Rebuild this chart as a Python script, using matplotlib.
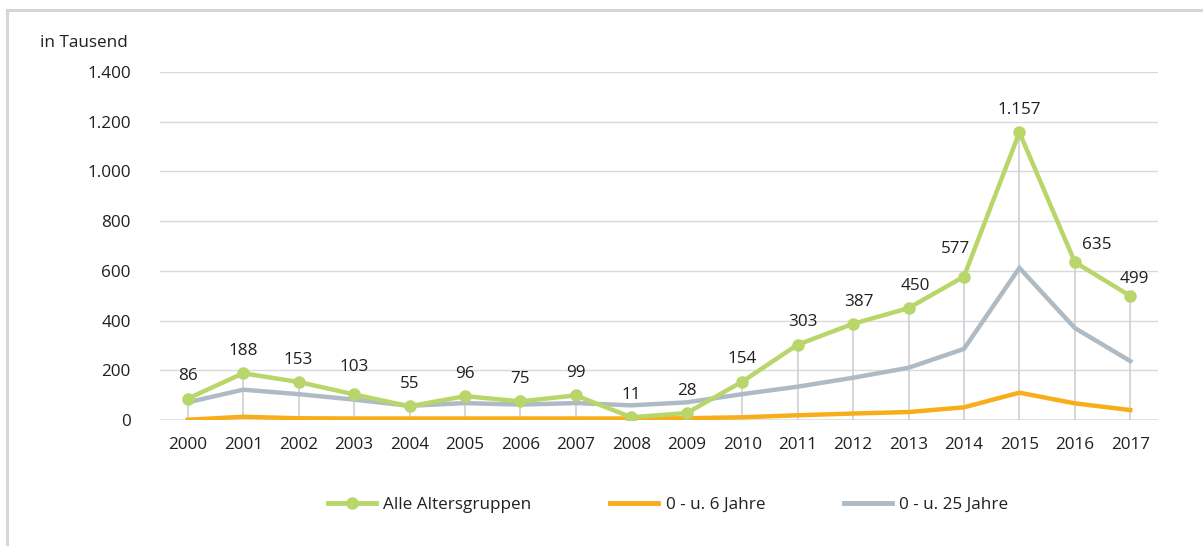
"""
Liniendiagramm: Schutzsuchende in Tausend, 2000-2017.
"""

import matplotlib.pyplot as plt
from matplotlib.lines import Line2D

years = [str(y) for y in range(2000, 2018)]
alle = [86, 188, 153, 103, 55, 96, 75, 99, 11, 28, 154, 303, 387, 450, 577, 1157, 635, 499]
unter_6 = [1, 13, 7, 6, 6, 6, 6, 6, 6, 7, 11, 19, 26, 32, 51, 110, 67, 40]
unter_25 = [71, 122, 104, 82, 57, 68, 62, 68, 59, 71, 104, 134, 170, 210, 286, 612, 370, 237]
alle_labels = ["86", "188", "153", "103", "55", "96", "75", "99", "11", "28",
               "154", "303", "387", "450", "577", "1.157", "635", "499"]
y_ticks = [0, 200, 400, 600, 800, 1000, 1200, 1400]
y_ticklabels = ["0", "200", "400", "600", "800", "1.000", "1.200", "1.400"]

GREEN = "#b8d66a"
ORANGE = "#f8ae1a"
GREY = "#aebbc5"
TEXT = "#231f20"
FS = 12.3

plt.rcParams["font.family"] = ["Open Sans", "DejaVu Sans"]

fig = plt.figure(figsize=(12.03, 5.46), dpi=100)
ax = fig.add_axes([160 / 1203, 1 - 420 / 546, 998 / 1203, 348 / 546])

x = list(range(len(years)))

# Rahmen um die Grafik (links und oben)
fig.add_artist(Line2D([7 / 1203, 7 / 1203], [0, 1 - 10 / 546], transform=fig.transFigure,
                      color="#d6d6d6", lw=2.2))
fig.add_artist(Line2D([7 / 1203, 1], [1 - 10 / 546, 1 - 10 / 546], transform=fig.transFigure,
                      color="#d6d6d6", lw=2.2))

for t in y_ticks[1:]:
    ax.axhline(t, color="#d9d9d9", lw=1, zorder=0)
ax.axhline(0, color="#6d6d6d", lw=1, zorder=1)

# senkrechte Hilfslinien von den Punkten zur Nulllinie
ax.vlines(x, 0, alle, color="#cfd0d2", lw=1.2, zorder=1)

ax.plot(x, unter_25, color=GREY, lw=3.2, zorder=3, solid_joinstyle="miter")
ax.plot(x, unter_6, color=ORANGE, lw=3.2, zorder=3, solid_joinstyle="miter")
ax.plot(x, alle, color=GREEN, lw=3.2, marker="o", ms=8, zorder=4)

# Wertbeschriftungen
offsets = {14: (-6, 20), 16: (16, 12), 17: (3, 12), 11: (4, 16), 13: (5, 16), 12: (4, 16)}
for i, (v, lab) in enumerate(zip(alle, alle_labels)):
    dx, dy = offsets.get(i, (0, 16))
    if i == 3:
        dy = 20
    ax.annotate(lab, (i, v), xytext=(dx, dy), textcoords="offset points",
                ha="center", va="center", fontsize=FS, color=TEXT)

ax.set_xlim(-0.5, len(years) - 0.5)
ax.set_ylim(0, 1400)
ax.set_xticks(x)
ax.set_xticklabels(years)
ax.set_yticks(y_ticks)
ax.set_yticklabels(y_ticklabels)
ax.tick_params(length=0, labelsize=FS, labelcolor=TEXT)
ax.tick_params(axis="x", pad=12)
ax.tick_params(axis="y", pad=21)
for s in ax.spines.values():
    s.set_visible(False)
ax.patch.set_visible(False)

fig.text(40 / 1203, 1 - 43 / 546, "in Tausend", fontsize=FS, color=TEXT, va="center")

handles = [
    Line2D([], [], color=GREEN, lw=3.5, marker="o", ms=8),
    Line2D([], [], color=ORANGE, lw=3.5),
    Line2D([], [], color=GREY, lw=3.5),
]
fig.legend(handles, ["Alle Altersgruppen", "0 - u. 6 Jahre", "0 - u. 25 Jahre"],
           loc="center", bbox_to_anchor=(0.5555, 1 - 505 / 546), ncol=3, frameon=False,
           fontsize=FS, handlelength=2.8, columnspacing=4.6, handletextpad=0.45,
           labelcolor=TEXT)

fig.savefig("out.png", dpi=100)
